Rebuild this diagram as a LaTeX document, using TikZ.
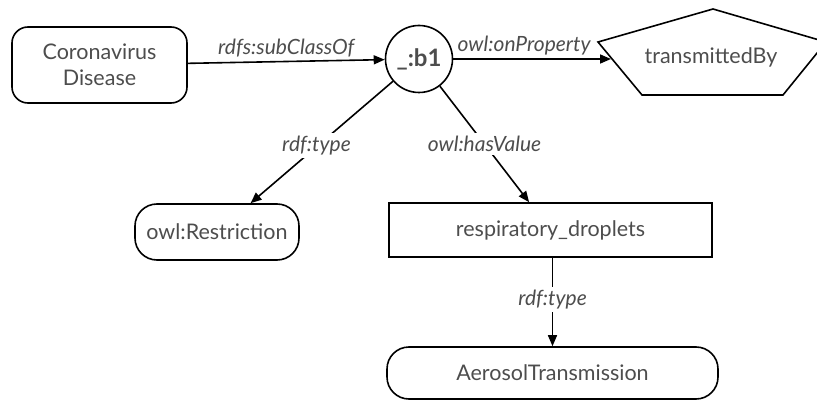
\documentclass[tikz,border=0pt]{standalone}
\usepackage{fontspec}
\setmainfont{Lato}
\usetikzlibrary{arrows.meta}
\definecolor{txt}{HTML}{4D4D4D}
\begin{document}
\begin{tikzpicture}[x=1pt,y=-1pt,
  every node/.style={text=txt, font=\fontsize{21.5pt}{26pt}\selectfont, inner sep=0pt},
  shapebox/.style={draw=black, line width=1.6pt, rectangle, align=center},
  roundbox/.style={shapebox, rounded corners=16pt},
  edgelabel/.style={fill=white, inner sep=3pt, font=\fontsize{21pt}{25pt}\selectfont\itshape},
  conn/.style={draw=black, line width=1.6pt, -{Triangle[length=11pt,width=9pt]}}
]
\useasboundingbox (0,0) rectangle (817,401);
\node[roundbox, minimum width=175pt, minimum height=76pt] (cd) at (99.5,65) {Coronavirus\\Disease};
\node[circle, draw=black, line width=1.6pt, minimum size=67pt, font=\fontsize{24pt}{28pt}\selectfont\bfseries] (b1) at (419,59) {\_:b1};
\draw[draw=black, line width=1.6pt] (713,9) -- (826,42) -- (783,95) -- (642,95) -- (598,42) -- cycle;
\node (tb) at (711,57) {transmittedBy};
\coordinate (tbin) at (611,59);
\node[roundbox, minimum width=164pt, minimum height=56pt, rounded corners=22pt] (restr) at (217,232) {owl:Restriction};
\node[shapebox, minimum width=323pt, minimum height=54pt] (resp) at (550.5,230) {respiratory\_droplets};
\node[roundbox, minimum width=331pt, minimum height=52pt, rounded corners=22pt] (aero) at (552.5,373) {AerosolTransmission};
\draw[conn] (cd) -- node[edgelabel, fill=none, above=1pt] {rdfs:subClassOf} (b1);
\draw[conn] (b1.east) -- node[edgelabel, fill=none, above=0pt, xshift=-8pt] {owl:onProperty} (tbin);
\draw[conn] (b1) -- node[edgelabel, pos=0.53, xshift=-1pt] {rdf:type} (restr);
\draw[conn] (b1) -- node[edgelabel, pos=0.5] {owl:hasValue} (resp);
\draw[conn] (resp.south -| aero.north) -- node[edgelabel, pos=0.47] {rdf:type} (aero.north);
\end{tikzpicture}
\end{document}
